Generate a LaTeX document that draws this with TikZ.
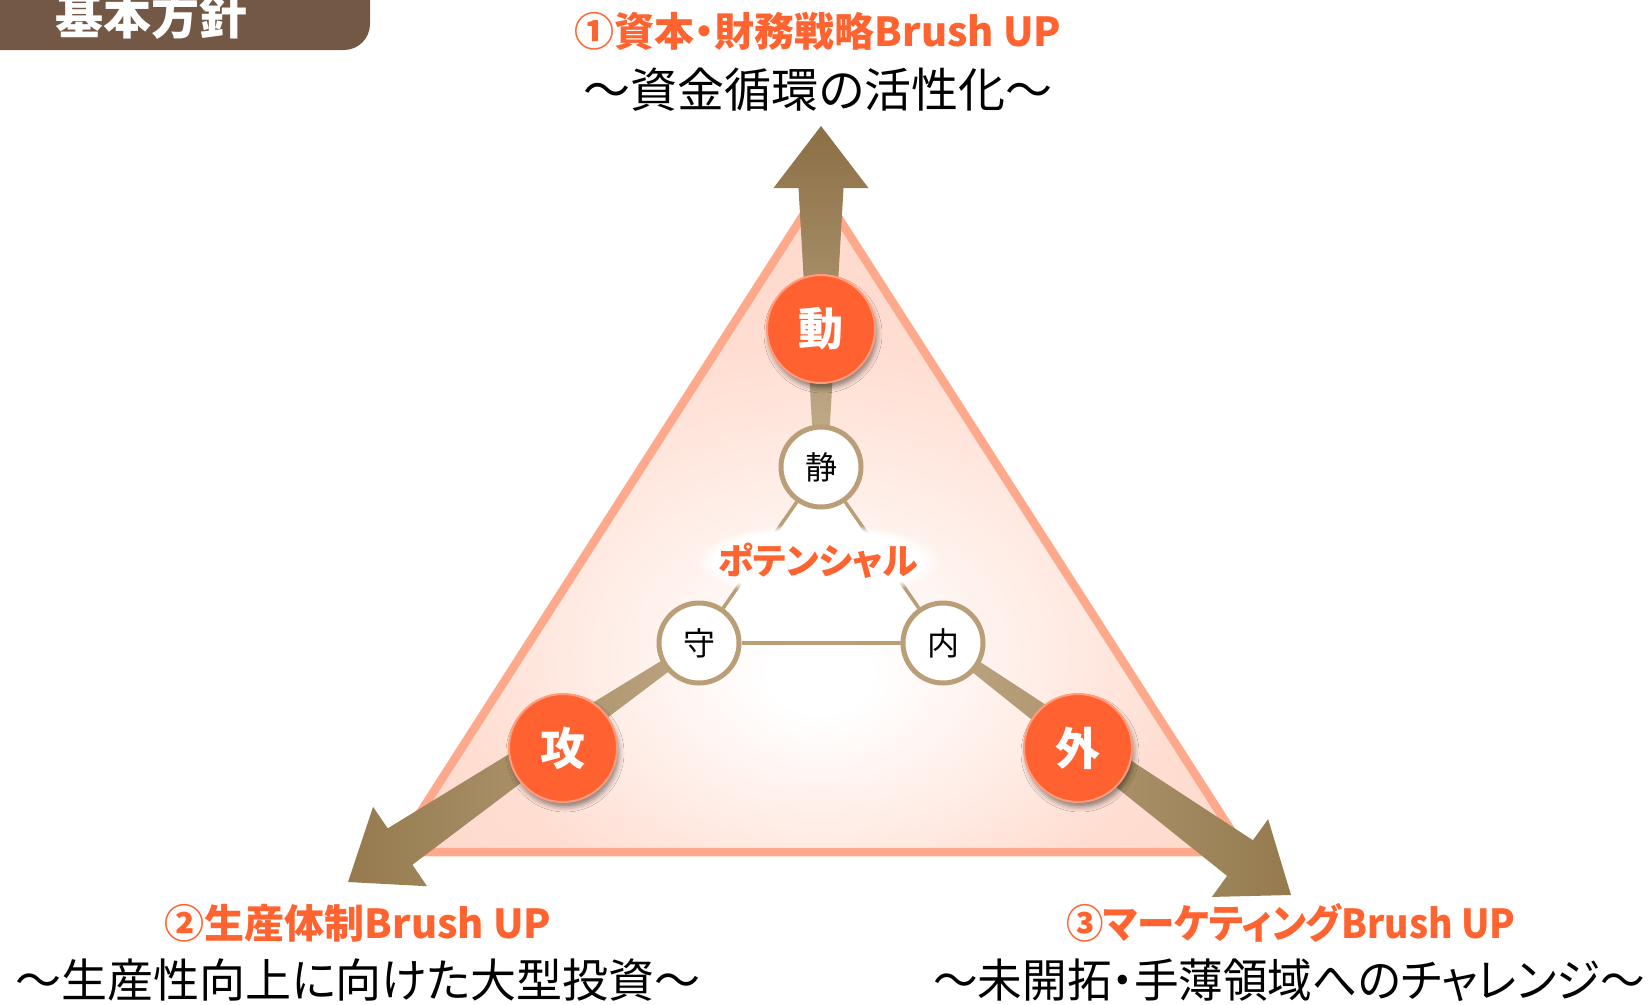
\documentclass[tikz,border=0pt]{standalone}
\usepackage{fontspec}
\setmainfont{Noto Sans CJK JP}
\newfontfamily\jp{Noto Sans CJK JP}[RawFeature=+palt]
\newfontfamily\jpf{Noto Sans CJK JP}
\usetikzlibrary{calc,shadows.blur,fadings}
\definecolor{hdr}{HTML}{735845}
\definecolor{orng}{HTML}{FF6130}
\definecolor{orngtxt}{HTML}{FF6430}
\definecolor{orbd}{HTML}{FF9C7C}
\definecolor{tribd}{HTML}{FFA98C}
\definecolor{tripk}{HTML}{FFD2C2}
\definecolor{arrd}{HTML}{957A4E}
\definecolor{arrtop}{HTML}{8B6F45}
\definecolor{arrl}{HTML}{C6B08F}
\definecolor{ring}{HTML}{B99E78}
\pgfdeclareradialshading{trishade}{\pgfpoint{0bp}{-12bp}}{color(0bp)=(white); color(3bp)=(white); color(22bp)=(tripk!75!white); color(45bp)=(tripk); color(80bp)=(tripk)}
\newcommand\myfatarrow[7]{%
  \path[#1] ($(#2)!#5!90:(#3)$) -- ($(#4)!#6!90:(#3)$) -- ($(#4)!#7!90:(#3)$) -- (#3)
    -- ($(#4)!#7!-90:(#3)$) -- ($(#4)!#6!-90:(#3)$) -- ($(#2)!#5!-90:(#3)$) -- cycle;}
\tikzset{
  smallc/.style={circle, draw=ring, fill=white, line width=5pt, minimum size=80pt, inner sep=0pt,
    font=\jpf\fontsize{32}{34}\selectfont},
  bigc/.style={circle, draw=orbd, fill=orng, line width=2pt, minimum size=108pt, inner sep=0pt,
    text=white, font=\jpf\bfseries\fontsize{45}{48}\selectfont,
    blur shadow={shadow xshift=2pt, shadow yshift=-5pt, shadow blur radius=5pt, shadow opacity=45}},
  ttl/.style={inner sep=0pt, text=orngtxt, font=\jp\bfseries\fontsize{40}{44}\selectfont},
  sub/.style={inner sep=0pt, text=black, font=\jp\fontsize{46}{50}\selectfont},
}
\begin{document}
\begin{tikzpicture}[x=1pt,y=-1pt]
\useasboundingbox (0,0) rectangle (1649,1004);
% header tab
\path[fill=hdr, rounded corners=26pt] (-40,-40) -- (370,-40) -- (370,50) -- (-40,50) -- cycle;
\node[inner sep=0pt, text=white, font=\jp\bfseries\fontsize{48}{50}\selectfont] (hdrtxt) at (151,16) {基本方針};
% big triangle
\coordinate (TA) at (820,189);
\coordinate (TL) at (395,852);
\coordinate (TR) at (1245,852);
\path[shading=trishade] (TA) -- (TL) -- (TR) -- cycle;
\draw[tribd, line width=8.5pt, line join=miter] (TA) -- (TL) -- (TR) -- cycle;
% small circles positions
\coordinate (pS) at (821,467);
\coordinate (pM) at (699,643);
\coordinate (pN) at (943,643);
\fill[white] (pS) -- (pM) -- (pN) -- cycle;
% arrows
\coordinate (upT) at (821,126);
\coordinate (upB) at ($(upT)!62pt!(pS)$);
\myfatarrow{top color=arrtop, bottom color=arrl}{pS}{upT}{upB}{6.5pt}{22.5pt}{47.5pt}
\coordinate (lT) at (348,882);
\coordinate (lB) at ($(lT)!63pt!(pM)$);
\myfatarrow{left color=arrd, right color=arrl!80!arrd}{pM}{lT}{lB}{4.5pt}{22pt}{48pt}
\coordinate (rT) at (1291,895);
\coordinate (rB) at ($(rT)!63pt!(pN)$);
\myfatarrow{right color=arrd, left color=arrl!80!arrd}{pN}{rT}{rB}{4.5pt}{22pt}{48pt}
% small circles
\node[smallc] (sei) at (pS) {静};
\node[smallc] (mam) at (pM) {守};
\node[smallc] (nai) at (pN) {内};
\draw[ring, line width=3.5pt] (sei) -- (mam);
\draw[ring, line width=3.5pt] (sei) -- (nai);
\draw[ring, line width=3.5pt] (mam) -- (nai);
% big circles
\node[bigc] (dou) at (821,329) {動};
\node[bigc] (kou) at (563,748) {攻};
\node[bigc] (gai) at (1078,748) {外};
% potential label with soft white glow
\coordinate (potc) at (818,561);
\fill[white, path fading=circle with fuzzy edge 15 percent] (potc) ellipse [x radius=122pt, y radius=38pt];
\node[inner sep=0pt, text=orngtxt, font=\jp\bfseries\fontsize{36}{38}\selectfont] (pot) at (potc) {ポテンシャル};
% titles
\node[ttl] (t1) at (818,31) {①資本・財務戦略Brush UP};
\node[sub] (s1) at (818,90) {\fontsize{47}{50}\selectfont ～資金循環の活性化～};
\node[ttl] (t2) at (358,923) {②生産体制Brush UP};
\node[sub] (s2) at (358,980) {～生産性向上に向けた大型投資～};
\node[ttl] (t3) at (1291,923) {\scalebox{0.935}[1]{③マーケティングBrush UP}};
\node[sub] (s3) at (1289,980) {\scalebox{0.97}[1]{～未開拓・手薄領域へのチャレンジ～}};
\end{tikzpicture}
\end{document}
